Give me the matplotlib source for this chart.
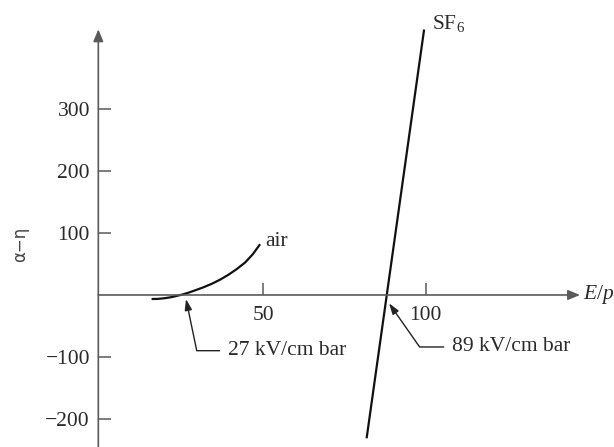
import numpy as np
import matplotlib
matplotlib.use("Agg")
import matplotlib.pyplot as plt

# Kurven
air_x = [15.6, 17.5, 19.5, 21.8, 24.9, 27.0, 29.0, 31.5, 34.1, 36.7, 39.2, 41.8, 44.4, 46.7, 49.0]
air_y = [-6.5, -6.3, -5.3, -3.4, 0.5, 3.8, 7.5, 12.3, 18.0, 24.8, 32.5, 41.8, 52.5, 65.5, 82.0]
sf6_x = [81.8, 99.5]
sf6_y = [-231.5, 429.0]

# Achsenbeschriftung
xticks = [50, 100]
xtick_labels = ["50", "100"]
yticks = [-200, -100, 100, 200, 300]
ytick_labels = ["\u2212200", "\u2212100", "100", "200", "300"]

# Schnittpunkte mit der Achse
air_cross = (26.2, -6.5)
sf6_cross = (88.7, -13.4)
air_cross_label = "27 kV/cm bar"
sf6_cross_label = "89 kV/cm bar"

plt.rcParams['font.family'] = ['Liberation Serif', 'DejaVu Serif']
plt.rcParams['mathtext.fontset'] = 'custom'
plt.rcParams['mathtext.rm'] = 'Liberation Serif'
plt.rcParams['mathtext.it'] = 'Liberation Serif:italic'
txt = '#2a2a2a'
axc = '#5a5a5a'

fig = plt.figure(figsize=(6.14, 4.47), dpi=100)
ax = fig.add_axes([0, 0, 1, 1])
ax.set_xlim(-31.07, 157.96)
ax.set_ylim(-245.6, 476.6)

for s in ax.spines.values():
    s.set_visible(False)
ax.spines['left'].set_position(('data', -0.8))
ax.spines['bottom'].set_position(('data', 0))

# Achsen mit Pfeilen
ax.annotate('', xy=(-0.8, 429.2), xytext=(-0.8, -245.6),
            arrowprops=dict(arrowstyle='-|>,head_length=0.6,head_width=0.25',
                            color=axc, lw=1.2, mutation_scale=12,
                            shrinkA=0, shrinkB=0))
ax.annotate('', xy=(147.5, 0), xytext=(-0.8, 0),
            arrowprops=dict(arrowstyle='-|>,head_length=0.6,head_width=0.25',
                            color=axc, lw=1.2, mutation_scale=12,
                            shrinkA=0, shrinkB=0))

ax.set_xticks(xticks)
ax.set_xticklabels(xtick_labels)
ax.set_yticks(yticks)
ax.set_yticklabels(ytick_labels)
ax.tick_params(axis='both', direction='in', length=9, width=1.1, color=axc,
               labelsize=15.5, labelcolor=txt)
ax.tick_params(axis='x', pad=8)
ax.tick_params(axis='y', pad=6)

ax.plot(air_x, air_y, color='#111111', lw=1.6, solid_capstyle='butt',
        solid_joinstyle='round')
ax.plot(sf6_x, sf6_y, color='#111111', lw=1.6, solid_capstyle='butt')

ax.text(air_x[-1] + 1.5, air_y[-1] + 4, "air", fontsize=15.5, color=txt,
        ha='left', va='center')
ax.text(sf6_x[-1] + 2.3, sf6_y[-1] + 10, "SF$_6$", fontsize=15.5, color=txt,
        ha='left', va='center')
ax.text(148.3, 0, "$E/p$", fontsize=15.5, color=txt, ha='left', va='center')

ann = dict(arrowstyle='-|>,head_length=0.55,head_width=0.18', color='#222222',
           lw=1.0, mutation_scale=12, shrinkA=4, shrinkB=0, relpos=(0, 0.5))
ax.annotate(air_cross_label, xy=air_cross, xytext=(39.1, -90),
            fontsize=15.5, color=txt, ha='left', va='center',
            arrowprops=dict(connectionstyle='angle,angleA=0,angleB=101.7,rad=0', **ann))
ax.annotate(sf6_cross_label, xy=sf6_cross, xytext=(108.1, -84),
            fontsize=15.5, color=txt, ha='left', va='center',
            arrowprops=dict(connectionstyle='angle,angleA=0,angleB=125,rad=0', **ann))

ax.text(-24.8, 81, "\u03b1\u2212\u03b7", rotation=90, fontsize=12,
        family=['DejaVu Sans'], color='#444444', ha='center', va='center')

fig.savefig("out.png", dpi=100)
